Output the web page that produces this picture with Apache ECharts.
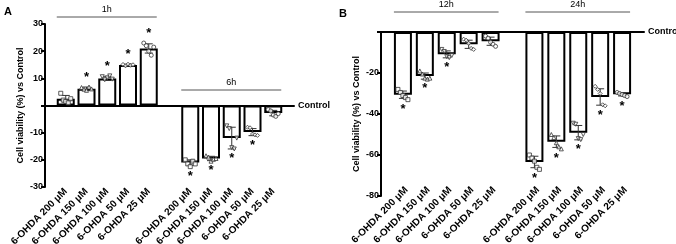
<!DOCTYPE html>
<html><head><meta charset="utf-8">
<script src="https://cdn.jsdelivr.net/npm/echarts@6/dist/echarts.min.js"></script>
<style>html,body{margin:0;padding:0;background:#fff}#c{width:676px;height:244px}</style>
</head><body><div id="c"></div>
<script>
// ---------- data ----------
const doses = ["6-OHDA 200 μM", "6-OHDA 150 μM", "6-OHDA 100 μM", "6-OHDA 50 μM", "6-OHDA 25 μM"];
const categories = ["", ...doses, "", ...doses, ""];
const groupLabelsA = ["1h", "6h"];
const groupLabelsB = ["12h", "24h"];
const yTicksA = [-30, -20, -10, 0, 10, 20, 30];
const yTicksB = [-80, -60, -40, -20, 0];

// Panel A, 1h
const meanA1 = [2.5, 6.2, 9.9, 14.9, 21.0];
const sdA1 = [1.2, 0.6, 0.7, 0.3, 1.7];
const ptsA1 = [[4.5, 2.0, 1.5, 1.0, 2.5], [6.6, 6.0, 5.6, 6.8, 6.1], [10.6, 9.5, 10.2, 10.9, 9.7], [15.1, 14.6, 15.2, 14.8, 15.0], [23.0, 22.0, 20.0, 18.5, 21.5]];
const sigA1 = [0, 1, 1, 1, 1];
// Panel A, 6h
const meanA2 = [-21.0, -19.5, -12.0, -9.8, -2.8];
const sdA2 = [1.0, 0.8, 4.0, 1.3, 1.0];
const ptsA2 = [[-20.0, -21.5, -22.5, -20.5, -21.5], [-18.5, -19.0, -20.5, -19.8, -19.5], [-7.5, -8.5, -15.5, -16.0, -12.0], [-8.0, -8.2, -10.5, -10.8, -11.0], [-1.5, -2.0, -3.5, -4.0, -3.0]];
const sigA2 = [1, 1, 1, 1, 0];
// Panel B, 12h
const meanB1 = [-30.6, -21.5, -10.9, -6.0, -4.5];
const sdB1 = [1.8, 1.5, 1.7, 2.0, 2.0];
const ptsB1 = [[-28.0, -29.5, -31.0, -32.0, -33.0], [-19.0, -20.5, -22.5, -23.0, -22.5], [-8.5, -9.5, -12.0, -12.5, -11.5], [-3.5, -4.0, -5.5, -8.0, -8.5], [-2.0, -3.0, -5.0, -6.0, -7.0]];
const sigB1 = [1, 1, 1, 0, 0];
// Panel B, 24h
const meanB2 = [-63.4, -53.5, -49.1, -31.7, -30.4];
const sdB2 = [2.8, 2.8, 3.5, 4.0, 0.8];
const ptsB2 = [[-60.0, -61.5, -63.0, -66.0, -67.0], [-50.0, -51.5, -54.0, -56.0, -57.0], [-44.5, -45.0, -52.0, -52.5, -50.0], [-26.5, -28.0, -30.0, -35.5, -36.0], [-29.5, -30.0, -30.5, -31.0, -31.5]];
const sigB2 = [1, 1, 1, 1, 1];

// ---------- helpers ----------
const FONT = "'Liberation Sans', Arial, sans-serif";
const symbols = ['rect', 'triangle', 'path://M0,0L10,0L5,9Z', 'diamond', 'circle'];
const jitter = [-5, -2.5, 0, 2.5, 5];
const firstIdx = [1, 7];

function barData(means1, means2) {
  const d = [];
  means1.forEach((v, i) => d.push([firstIdx[0] + i, v]));
  means2.forEach((v, i) => d.push([firstIdx[1] + i, v]));
  return d;
}
function errData(m1, s1, m2, s2) {
  const d = [];
  m1.forEach((v, i) => d.push([firstIdx[0] + i, v, s1[i]]));
  m2.forEach((v, i) => d.push([firstIdx[1] + i, v, s2[i]]));
  return d;
}
function starData(m1, s1, p1, g1, m2, s2, p2, g2) {
  const d = [];
  [[m1, s1, p1, g1, 0], [m2, s2, p2, g2, 1]].forEach(([m, s, p, g, k]) => {
    m.forEach((v, i) => {
      if (!g[i]) return;
      const ext = v >= 0 ? Math.max(v + s[i], ...p[i]) : Math.min(v - s[i], ...p[i]);
      d.push([firstIdx[k] + i, ext]);
    });
  });
  return d;
}
function pointSeries(p1, p2, xi, yi) {
  const out = [];
  for (let b = 0; b < 5; b++) {
    const data = [];
    [[p1, 0], [p2, 1]].forEach(([p, k]) => {
      p[b].forEach((v, j) => data.push({ value: [firstIdx[k] + b, v], symbolOffset: [jitter[j], 0] }));
    });
    out.push({
      type: 'scatter', xAxisIndex: xi, yAxisIndex: yi, data, symbol: symbols[b], symbolSize: 4, z: 5,
      itemStyle: { color: '#fff', borderColor: '#333', borderWidth: 1 }, silent: true
    });
  }
  return out;
}
function errRender(params, api) {
  const x = api.value(0), m = api.value(1), s = api.value(2);
  const hi = api.coord([x, m + s]), lo = api.coord([x, m - s]);
  const w = 4, st = { stroke: '#333', lineWidth: 1 };
  return { type: 'group', children: [
    { type: 'line', shape: { x1: hi[0], y1: hi[1], x2: lo[0], y2: lo[1] }, style: st },
    { type: 'line', shape: { x1: hi[0] - w, y1: hi[1], x2: hi[0] + w, y2: hi[1] }, style: st },
    { type: 'line', shape: { x1: lo[0] - w, y1: lo[1], x2: lo[0] + w, y2: lo[1] }, style: st }
  ]};
}
function starRender(params, api) {
  const x = api.value(0), v = api.value(1);
  const p = api.coord([x, v]);
  const up = v >= 0;
  return { type: 'text', x: p[0], y: up ? p[1] - 3 : p[1] + 3,
    style: { text: '*', fontSize: 13, fontWeight: 'bold', fontFamily: FONT, fill: '#000',
      align: 'center', verticalAlign: up ? 'bottom' : 'top' } };
}

function xAxesFor(gi, margin, vAlign) {
  return [
    { type: 'category', gridIndex: gi, data: categories, boundaryGap: false, position: 'bottom',
      axisLine: { show: false, onZero: false }, axisTick: { show: false },
      axisLabel: { interval: 0, rotate: 45, fontSize: 10, fontWeight: 'bold', fontFamily: FONT, color: '#000',
        margin: margin, verticalAlign: vAlign },
      splitLine: { show: false } },
    { type: 'category', gridIndex: gi, data: categories, boundaryGap: false, position: 'top',
      axisLine: { show: true, onZero: true, lineStyle: { color: '#000', width: 2 } },
      axisTick: { show: false }, axisLabel: { show: false }, splitLine: { show: false },
      name: 'Control', nameLocation: 'end', nameGap: 4,
      nameTextStyle: { fontSize: 9, fontWeight: 'bold', fontFamily: FONT, color: '#000', verticalAlign: 'middle' } }
  ];
}
function yAxisFor(gi, ticks) {
  return { type: 'value', gridIndex: gi, min: ticks[0], max: ticks[ticks.length - 1], interval: ticks[1] - ticks[0],
    axisLine: { show: true, onZero: false, lineStyle: { color: '#000', width: 2 } },
    axisTick: { show: true, length: 4, lineStyle: { color: '#000', width: 2 } },
    axisLabel: { fontSize: 9, fontWeight: 'bold', fontFamily: FONT, color: '#000', margin: 2,
      formatter: v => (v === 0 ? '' : String(v)) },
    splitLine: { show: false },
    name: 'Cell viability (%) vs Control', nameLocation: 'middle', nameGap: 20,
    nameTextStyle: { fontSize: 9, fontWeight: 'bold', fontFamily: FONT, color: '#000' } };
}
function panelSeries(xi, yi, m1, s1, p1, g1, m2, s2, p2, g2) {
  return [
    { type: 'bar', xAxisIndex: xi, yAxisIndex: yi, data: barData(m1, m2), barWidth: 18, z: 2,
      itemStyle: { color: '#fff', borderColor: '#000', borderWidth: 2 }, silent: true },
    { type: 'custom', xAxisIndex: xi, yAxisIndex: yi, data: errData(m1, s1, m2, s2), renderItem: errRender, z: 4, silent: true },
    ...pointSeries(p1, p2, xi, yi),
    { type: 'custom', xAxisIndex: xi, yAxisIndex: yi, data: starData(m1, s1, p1, g1, m2, s2, p2, g2), renderItem: starRender, z: 6, silent: true }
  ];
}

const chart = echarts.init(document.getElementById('c'), null, { renderer: 'canvas' });
chart.setOption({
  animation: false,
  backgroundColor: '#fff',
  grid: [
    { left: 45, right: 382, top: 24, bottom: 57, containLabel: false, outerBoundsMode: 'none' },
    { left: 381, right: 32, top: 32, bottom: 48, containLabel: false, outerBoundsMode: 'none' }
  ],
  xAxis: [...xAxesFor(0, 3, 'middle'), ...xAxesFor(1, -11, 'top')],
  yAxis: [yAxisFor(0, yTicksA), yAxisFor(1, yTicksB)],
  series: [
    ...panelSeries(0, 0, meanA1, sdA1, ptsA1, sigA1, meanA2, sdA2, ptsA2, sigA2),
    ...panelSeries(2, 1, meanB1, sdB1, ptsB1, sigB1, meanB2, sdB2, ptsB2, sigB2)
  ]
});

// group annotation lines, positioned from the axes
function groupGraphic(gi, labels, lineYs) {
  const els = [];
  labels.forEach((lab, k) => {
    const a = chart.convertToPixel({ gridIndex: gi }, [firstIdx[k], 0]);
    const b = chart.convertToPixel({ gridIndex: gi }, [firstIdx[k] + 4, 0]);
    const x1 = a[0] - 9, x2 = b[0] + 8, y = lineYs[k];
    els.push({ type: 'line', shape: { x1, y1: y, x2, y2: y }, style: { stroke: '#555', lineWidth: 1 } });
    els.push({ type: 'text', x: (x1 + x2) / 2, y: y - 3,
      style: { text: lab, fontSize: 9, fontFamily: FONT, fill: '#000', align: 'center', verticalAlign: 'bottom' } });
  });
  return els;
}
chart.setOption({ graphic: [
  ...groupGraphic(0, groupLabelsA, [17, 90]),
  ...groupGraphic(1, groupLabelsB, [12, 12]),
  { type: 'text', x: 4, y: 6, style: { text: 'A', fontSize: 11, fontWeight: 'bold', fontFamily: FONT, fill: '#000' } },
  { type: 'text', x: 339, y: 8, style: { text: 'B', fontSize: 11, fontWeight: 'bold', fontFamily: FONT, fill: '#000' } }
]});
</script></body></html>
